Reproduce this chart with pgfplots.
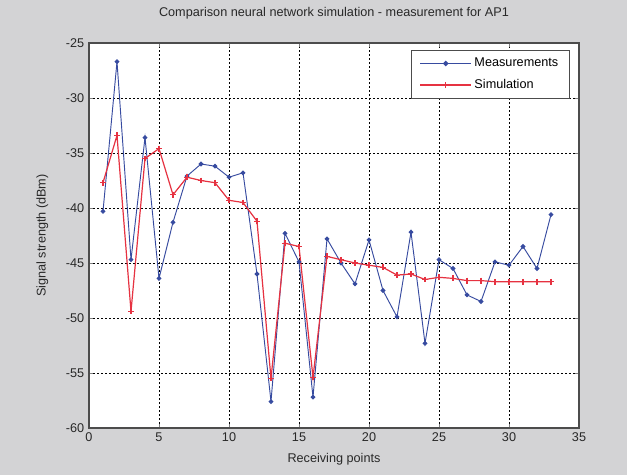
\documentclass[border=0pt]{standalone}
\usepackage{fontspec}
\setmainfont{Liberation Sans}
\usepackage{pgfplots}
\pgfplotsset{compat=1.18}
\definecolor{figbg}{RGB}{211,211,213}
\definecolor{mblue}{RGB}{55,75,160}
\definecolor{sred}{RGB}{230,50,65}
\definecolor{txt}{RGB}{40,40,40}
\begin{document}
\begin{tikzpicture}
\fill[figbg] (0,0) rectangle (470.25pt,356.25pt);
\begin{axis}[
  at={(66.75pt,35.25pt)}, anchor=south west,
  width=367.5pt, height=288.75pt, scale only axis,
  xmin=0, xmax=35, ymin=-60, ymax=-25,
  xtick={0,5,...,35}, ytick={-60,-55,...,-25},
  tick align=inside, major tick length=3pt,
  grid=major,
  major grid style={black, dash pattern=on 1.2pt off 1.8pt, line width=0.6pt},
  axis line style={black!70, line width=0.8pt},
  axis background/.style={fill=white},
  ticklabel style={font=\fontsize{9.5}{11}\selectfont, text=txt},
  /pgf/number format/assume math mode=true,
  title={Comparison neural network simulation - measurement for AP1},
  title style={font=\fontsize{9.5}{11}\selectfont, text=txt, yshift=8pt},
  xlabel={Receiving points},
  ylabel={Signal strength (dBm)},
  label style={font=\fontsize{9.5}{11}\selectfont, text=txt},
  xlabel style={yshift=-1.5pt},
  ylabel style={yshift=6.5pt},
  legend style={at={(0.98,0.982)}, anchor=north east, font=\fontsize{9.5}{11}\selectfont,
    draw=black!70, row sep=4pt, inner xsep=6pt, inner ysep=4pt},
  legend cell align=left,
  legend image code/.code={\draw[mark repeat=2,mark phase=2] plot coordinates {(0pt,0pt) (19pt,0pt) (38pt,0pt)};},
  legend image post style={line width=1.1pt},
]
\addplot[mblue, line width=0.7pt, mark=*, mark size=1.4pt, mark options={solid, fill=mblue}]
coordinates {
(1,-40.3) (2,-26.7) (3,-44.7) (4,-33.6) (5,-46.4) (6,-41.3) (7,-37.1) (8,-36.0)
(9,-36.2) (10,-37.2) (11,-36.8) (12,-46.0) (13,-57.6) (14,-42.3) (15,-44.9)
(16,-57.2) (17,-42.8) (18,-45.0) (19,-46.9) (20,-42.9) (21,-47.5) (22,-49.9)
(23,-42.2) (24,-52.3) (25,-44.7) (26,-45.5) (27,-47.9) (28,-48.5) (29,-44.9)
(30,-45.2) (31,-43.5) (32,-45.5) (33,-40.6)
};
\addlegendentry{Measurements}
\addplot[sred, line width=0.9pt, mark=+, mark size=2.2pt, mark options={solid}]
coordinates {
(1,-37.7) (2,-33.4) (3,-49.4) (4,-35.5) (5,-34.6) (6,-38.8) (7,-37.2) (8,-37.5)
(9,-37.7) (10,-39.3) (11,-39.5) (12,-41.2) (13,-55.5) (14,-43.2) (15,-43.5)
(16,-55.4) (17,-44.4) (18,-44.7) (19,-45.0) (20,-45.2) (21,-45.4) (22,-46.1)
(23,-46.0) (24,-46.5) (25,-46.3) (26,-46.4) (27,-46.6) (28,-46.6) (29,-46.7)
(30,-46.7) (31,-46.7) (32,-46.7) (33,-46.7)
};
\addlegendentry{Simulation}
\end{axis}
\end{tikzpicture}
\end{document}
